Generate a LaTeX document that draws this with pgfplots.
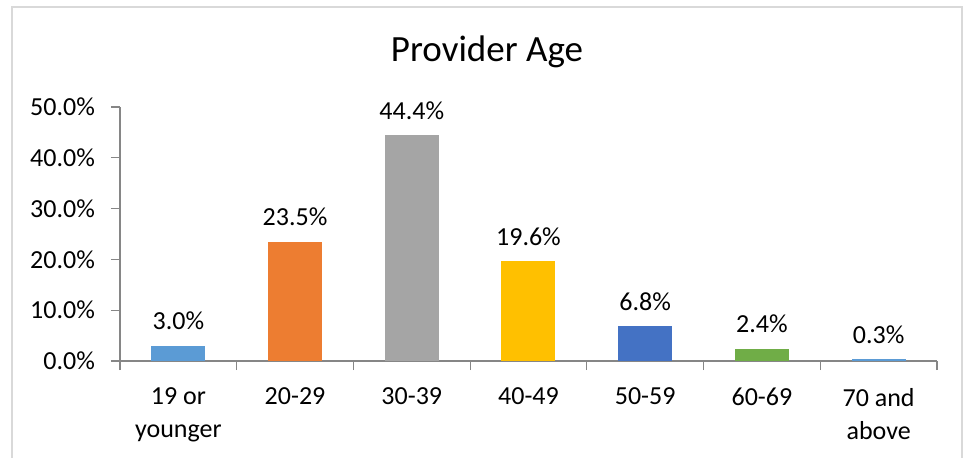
\documentclass[border=0pt]{standalone}
\usepackage{fontspec}
\setmainfont{Carlito}
\usepackage{pgfplots}
\pgfplotsset{compat=1.18}
\definecolor{c1}{HTML}{5B9BD5}
\definecolor{c2}{HTML}{ED7D31}
\definecolor{c3}{HTML}{A5A5A5}
\definecolor{c4}{HTML}{FFC000}
\definecolor{c5}{HTML}{4472C4}
\definecolor{c6}{HTML}{70AD47}
\definecolor{frame}{HTML}{D9D9D9}
\definecolor{axisgray}{HTML}{868686}
\begin{document}
\begin{tikzpicture}[x=0.5pt,y=0.5pt]
\useasboundingbox (0,0) rectangle (966,457);
\draw[draw=frame, line width=0.9pt] (12,-5) -- (12,450) -- (962,450) -- (962,-5);
\node[font=\fontsize{18.5}{22}\selectfont] at (487,405) {Provider Age};
\begin{axis}[
  at={(60pt,48pt)}, anchor=south west,
  scale only axis, width=408.5pt, height=127pt,
  xmin=-0.5, xmax=6.5, ymin=0, ymax=50,
  axis lines*=left,
  axis line style={draw=axisgray, line width=0.6pt},
  tick align=outside,
  major tick length=4.5pt,
  tick style={draw=axisgray, line width=0.6pt},
  ytick={0,10,...,50},
  yticklabel={\pgfmathprintnumber[fixed,fixed zerofill,precision=1]{\tick}\%},
  yticklabel style={xshift=-4.5pt},
  /pgf/number format/assume math mode=true,
  ticklabel style={font=\fontsize{13}{16.5}\selectfont, text=black},
  xtick={-0.5,0.5,...,6.5},
  xticklabels={},
  extra x ticks={0,1,2,3,4,5,6},
  extra x tick labels={{19 or\\younger},{20-29},{30-39},{40-49},{50-59},{60-69},{70 and\\above}},
  extra x tick style={major tick length=0pt, xticklabel style={align=center, yshift=-10pt}},
  ybar, bar width=27pt,
  nodes near coords={\pgfmathprintnumber[fixed,fixed zerofill,precision=1]{\pgfplotspointmeta}\%},
  nodes near coords style={font=\fontsize{13}{16}\selectfont, text=black, yshift=4.5pt, /pgf/number format/assume math mode=true},
  clip=false,
]
\addplot[fill=c1, draw=none, bar shift=0pt] coordinates {(0,3.0)};
\addplot[fill=c2, draw=none, bar shift=0pt] coordinates {(1,23.5)};
\addplot[fill=c3, draw=none, bar shift=0pt] coordinates {(2,44.4)};
\addplot[fill=c4, draw=none, bar shift=0pt] coordinates {(3,19.6)};
\addplot[fill=c5, draw=none, bar shift=0pt] coordinates {(4,6.8)};
\addplot[fill=c6, draw=none, bar shift=0pt] coordinates {(5,2.4)};
\addplot[fill=c1, draw=none, bar shift=0pt] coordinates {(6,0.3)};
\end{axis}
\end{tikzpicture}
\end{document}
